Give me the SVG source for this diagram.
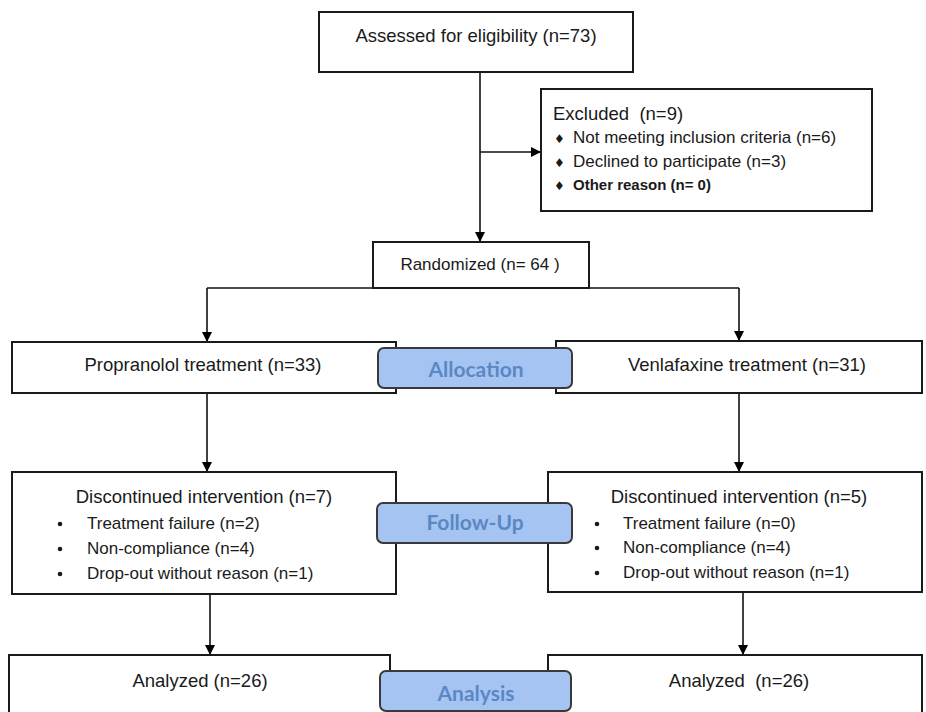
<svg xmlns="http://www.w3.org/2000/svg" width="926" height="712" viewBox="0 0 926 712">
<defs>
<marker id="ah" viewBox="0 0 10 10" refX="10" refY="5" markerWidth="10" markerHeight="10" markerUnits="userSpaceOnUse" orient="auto">
<path d="M0,0 L10,5 L0,10 Z" fill="#000"/>
</marker>
</defs>
<style>
.box{fill:#fff;stroke:#1a1a1a;stroke-width:2}
.lab{fill:#a6c4f2;stroke:#3a3a3a;stroke-width:2}
.t{font-family:"Liberation Sans",Arial,sans-serif;font-size:18.5px;fill:#1a1a1a;white-space:pre}
.s{font-family:"Liberation Sans",Arial,sans-serif;font-size:17px;fill:#1a1a1a}
.o{font-family:"Liberation Sans",Arial,sans-serif;font-size:15px;font-weight:bold;fill:#1a1a1a}
.d{font-family:"DejaVu Sans",sans-serif;font-size:12px;fill:#1a1a1a}
.l{font-family:Lato,"Open Sans",sans-serif;font-size:21px;font-weight:bold;fill:#5a88c5;text-anchor:middle}
.c{text-anchor:middle}
.ln{fill:none;stroke:#111;stroke-width:1.6}
</style>
<rect width="926" height="712" fill="#fff"/>
<g id="connectors">
<path class="ln" d="M480,72 V242" marker-end="url(#ah)"/>
<path class="ln" d="M480,152 H541" marker-end="url(#ah)"/>
<path class="ln" d="M207,288 H739"/>
<path class="ln" d="M207,288 V342" marker-end="url(#ah)"/>
<path class="ln" d="M739,288 V341" marker-end="url(#ah)"/>
<path class="ln" d="M207,393 V472" marker-end="url(#ah)"/>
<path class="ln" d="M739,393 V472" marker-end="url(#ah)"/>
<path class="ln" d="M210,594 V655" marker-end="url(#ah)"/>
<path class="ln" d="M743,592 V655" marker-end="url(#ah)"/>
</g>
<g id="assessed">
<rect class="box" x="319" y="12" width="314" height="60"/>
<text class="t c" x="476" y="42">Assessed for eligibility (n=73)</text>
</g>
<g id="excluded">
<rect class="box" x="541" y="89" width="331" height="122"/>
<text class="t" x="553" y="120" xml:space="preserve">Excluded  (n=9)</text>
<text class="d" x="554" y="143">♦</text>
<text class="s" x="573" y="143">Not meeting inclusion criteria (n=6)</text>
<text class="d" x="554" y="167">♦</text>
<text class="s" x="573" y="167">Declined to participate (n=3)</text>
<text class="d" x="554" y="190">♦</text>
<text class="o" x="573" y="190">Other reason (n= 0)</text>
</g>
<g id="randomized">
<rect class="box" x="373" y="242" width="216" height="46"/>
<text class="s c" x="480" y="270">Randomized (n= 64 )</text>
</g>
<g id="propranolol">
<rect class="box" x="12" y="342" width="384" height="51"/>
<text class="t c" x="203" y="371">Propranolol treatment (n=33)</text>
</g>
<g id="venlafaxine">
<rect class="box" x="556" y="341" width="366" height="52"/>
<text class="t c" x="747" y="371">Venlafaxine treatment (n=31)</text>
</g>
<g id="allocation">
<rect class="lab" x="378" y="348" width="194" height="40" rx="6"/>
<text class="l" x="476" y="377">Allocation</text>
</g>
<g id="disc-left">
<rect class="box" x="12" y="472" width="384" height="122"/>
<text class="t c" x="204" y="503">Discontinued intervention (n=7)</text>
<circle cx="60" cy="524" r="2.3" fill="#1a1a1a"/>
<text class="s" x="87" y="529">Treatment failure (n=2)</text>
<circle cx="60" cy="549" r="2.3" fill="#1a1a1a"/>
<text class="s" x="87" y="554">Non-compliance (n=4)</text>
<circle cx="60" cy="574" r="2.3" fill="#1a1a1a"/>
<text class="s" x="87" y="579">Drop-out without reason (n=1)</text>
</g>
<g id="disc-right">
<rect class="box" x="548" y="472" width="374" height="120"/>
<text class="t c" x="739" y="503">Discontinued intervention (n=5)</text>
<circle cx="597" cy="524" r="2.3" fill="#1a1a1a"/>
<text class="s" x="623" y="529">Treatment failure (n=0)</text>
<circle cx="597" cy="548" r="2.3" fill="#1a1a1a"/>
<text class="s" x="623" y="553">Non-compliance (n=4)</text>
<circle cx="597" cy="573" r="2.3" fill="#1a1a1a"/>
<text class="s" x="623" y="578">Drop-out without reason (n=1)</text>
</g>
<g id="followup">
<rect class="lab" x="377" y="503" width="195" height="40" rx="6"/>
<text class="l" x="475" y="530">Follow-Up</text>
</g>
<g id="analyzed-left">
<rect class="box" x="9" y="655" width="381" height="80"/>
<text class="t c" x="200" y="687">Analyzed (n=26)</text>
</g>
<g id="analyzed-right">
<rect class="box" x="548" y="655" width="374" height="80"/>
<text class="t c" x="739" y="687" xml:space="preserve">Analyzed  (n=26)</text>
</g>
<g id="analysis">
<rect class="lab" x="380" y="671" width="191" height="40" rx="6"/>
<text class="l" x="476" y="701">Analysis</text>
</g>
</svg>
